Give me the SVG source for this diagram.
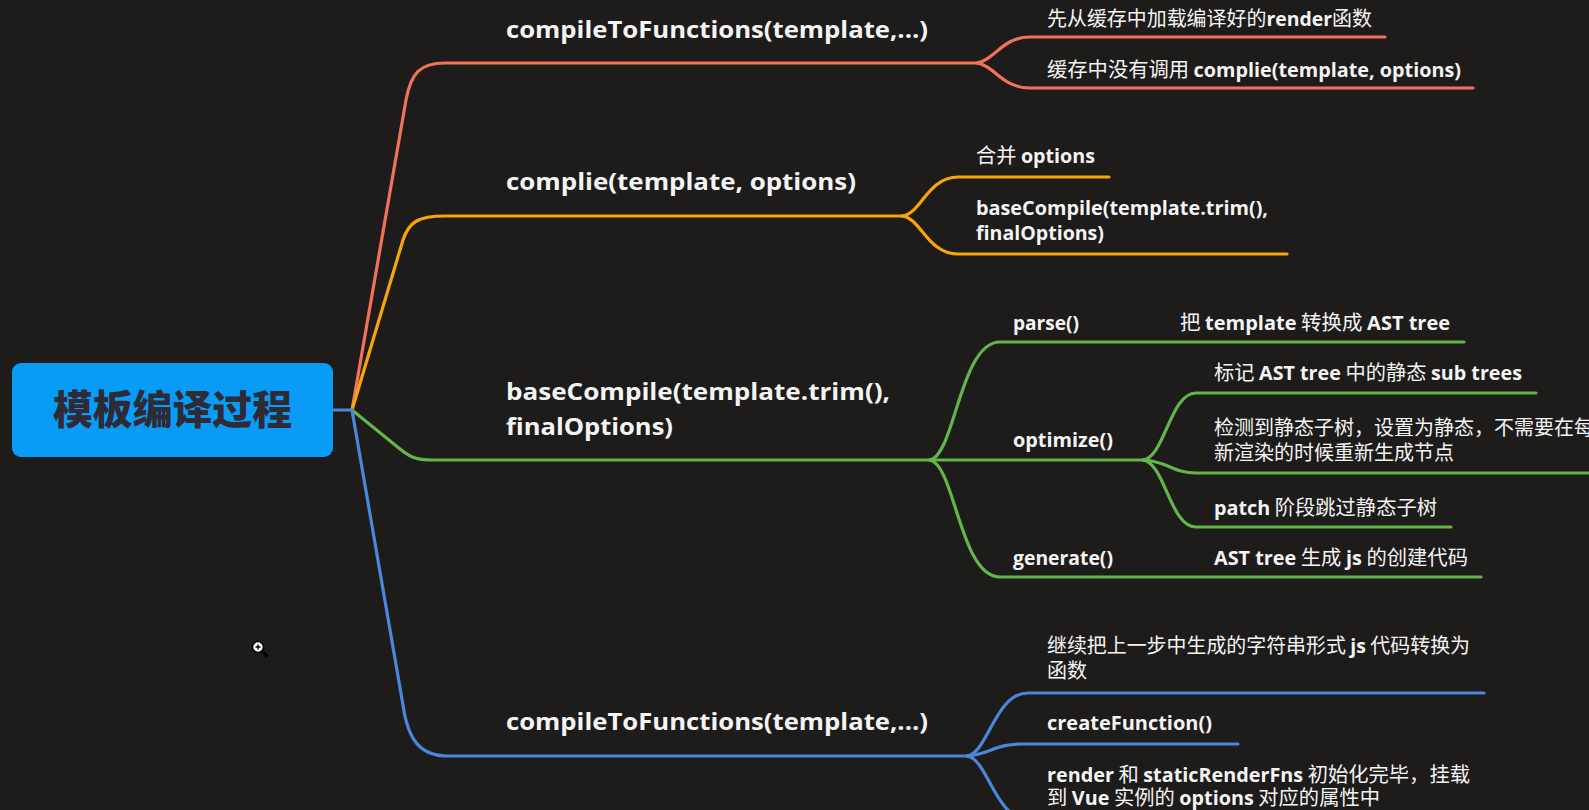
<svg xmlns="http://www.w3.org/2000/svg" width="1589" height="810" viewBox="0 0 1589 810">
<style>
.bg{fill:#1e1c1a}
.ln{fill:none;stroke-width:3.2;stroke-linecap:round;stroke-linejoin:round}
.red{stroke:#f0725a}.org{stroke:#f6a60c}.grn{stroke:#62b54a}.blu{stroke:#4a86dc}
text{font-family:"Open Sans","Noto Sans CJK SC",sans-serif;fill:#f4f4f4;font-weight:700}
.t1{font-size:23.5px}
.t2{font-size:19.5px}
.c{font-family:"Noto Sans CJK SC",sans-serif;font-weight:400;font-size:20px}
.root{font-family:"Noto Sans CJK SC",sans-serif;font-size:40px;font-weight:900;fill:#2e2a36}
</style>
<rect class="bg" x="0" y="0" width="1589" height="810"/>

<g id="connectors">
  <path class="ln blu" d="M333,410 L352,410"/>
  <path class="ln red" d="M352,410 L406,100 C411,73 420,63 445,63 L977,63"/>
  <path class="ln org" d="M352,410 L403,240 C409,222 418,216 445,216 L903,216"/>
  <path class="ln grn" d="M352,410 L400,449 C410,457 416,460 432,460 L930,460"/>
  <path class="ln blu" d="M352,410 L403,705 C408,740 420,756 448,756 L967,756"/>

  <path class="ln red" d="M977,63 C995,60 1002,37 1030,37 L1385,37"/>
  <path class="ln red" d="M977,63 C995,66 1002,88 1030,88 L1473,88"/>

  <path class="ln org" d="M903,216 C921,213 928,177 958,177 L1109,177"/>
  <path class="ln org" d="M903,216 C921,219 928,254 958,254 L1287,254"/>

  <path class="ln grn" d="M930,460 C955,455 960,342 1000,342 L1464,342"/>
  <path class="ln grn" d="M930,460 C955,465 960,577 1000,577 L1481,577"/>
  <path class="ln grn" d="M930,460 L1143,460"/>
  <path class="ln grn" d="M1143,460 C1165,457 1170,393 1196,393 L1536,393"/>
  <path class="ln grn" d="M1143,460 C1168,461 1172,473 1196,473 L1592,473"/>
  <path class="ln grn" d="M1143,460 C1165,463 1170,527 1196,527 L1451,527"/>

  <path class="ln blu" d="M967,756 C988,753 995,693 1028,693 L1484,693"/>
  <path class="ln blu" d="M967,756 C990,754 995,744 1022,744 L1238,744"/>
  <path class="ln blu" d="M967,756 C988,759 995,819 1028,819 L1484,819"/>
</g>

<g id="root">
  <rect x="12" y="363" width="321" height="94" rx="9" fill="#089cf7"/>
  <text class="root" x="53" y="424" textLength="239" lengthAdjust="spacingAndGlyphs">模板编译过程</text>
</g>

<g id="n-compileToFunctions-1">
  <text class="t1" x="506" y="38" textLength="422" lengthAdjust="spacingAndGlyphs">compileToFunctions(template,...)</text>
</g>
<g id="n-cache-load">
  <text class="t2" x="1047" y="26" textLength="325" lengthAdjust="spacingAndGlyphs"><tspan class="c">先从缓存中加载编译好的</tspan>render<tspan class="c">函数</tspan></text>
</g>
<g id="n-cache-miss">
  <text class="t2" x="1047" y="77" textLength="414" lengthAdjust="spacingAndGlyphs"><tspan class="c">缓存中没有调用 </tspan>complie(template, options)</text>
</g>

<g id="n-complie">
  <text class="t1" x="506" y="190" textLength="350" lengthAdjust="spacingAndGlyphs">complie(template, options)</text>
</g>
<g id="n-merge-options">
  <text class="t2" x="976" y="163" textLength="119" lengthAdjust="spacingAndGlyphs"><tspan class="c">合并 </tspan>options</text>
</g>
<g id="n-baseCompile-sub">
  <text class="t2" x="976" y="215" textLength="292" lengthAdjust="spacingAndGlyphs">baseCompile(template.trim(),</text>
  <text class="t2" x="976" y="240" textLength="128" lengthAdjust="spacingAndGlyphs">finalOptions)</text>
</g>

<g id="n-baseCompile">
  <text class="t1" x="506" y="400" textLength="384" lengthAdjust="spacingAndGlyphs">baseCompile(template.trim(),</text>
  <text class="t1" x="506" y="435" textLength="167" lengthAdjust="spacingAndGlyphs">finalOptions)</text>
</g>
<g id="n-parse">
  <text class="t2" x="1013" y="330" textLength="66" lengthAdjust="spacingAndGlyphs">parse()</text>
</g>
<g id="n-parse-desc">
  <text class="t2" x="1180" y="330" textLength="270" lengthAdjust="spacingAndGlyphs"><tspan class="c">把 </tspan>template<tspan class="c"> 转换成 </tspan>AST tree</text>
</g>
<g id="n-optimize">
  <text class="t2" x="1013" y="447" textLength="100" lengthAdjust="spacingAndGlyphs">optimize()</text>
</g>
<g id="n-mark">
  <text class="t2" x="1214" y="380" textLength="308" lengthAdjust="spacingAndGlyphs"><tspan class="c">标记 </tspan>AST tree<tspan class="c"> 中的静态 </tspan>sub trees</text>
</g>
<g id="n-detect">
  <text class="t2" x="1214" y="435"><tspan class="c">检测到静态子树，设置为静态，不需要在每</tspan></text>
  <text class="t2" x="1214" y="460"><tspan class="c">新渲染的时候重新生成节点</tspan></text>
</g>
<g id="n-patch">
  <text class="t2" x="1214" y="515" textLength="223" lengthAdjust="spacingAndGlyphs">patch<tspan class="c"> 阶段跳过静态子树</tspan></text>
</g>
<g id="n-generate">
  <text class="t2" x="1013" y="565" textLength="100" lengthAdjust="spacingAndGlyphs">generate()</text>
</g>
<g id="n-generate-desc">
  <text class="t2" x="1214" y="565" textLength="254" lengthAdjust="spacingAndGlyphs">AST tree<tspan class="c"> 生成 </tspan>js<tspan class="c"> 的创建代码</tspan></text>
</g>

<g id="n-compileToFunctions-2">
  <text class="t1" x="506" y="730" textLength="422" lengthAdjust="spacingAndGlyphs">compileToFunctions(template,...)</text>
</g>
<g id="n-convert">
  <text class="t2" x="1047" y="653" textLength="423" lengthAdjust="spacingAndGlyphs"><tspan class="c">继续把上一步中生成的字符串形式 </tspan>js<tspan class="c"> 代码转换为</tspan></text>
  <text class="t2" x="1047" y="678"><tspan class="c">函数</tspan></text>
</g>
<g id="n-createFunction">
  <text class="t2" x="1047" y="730" textLength="165" lengthAdjust="spacingAndGlyphs">createFunction()</text>
</g>
<g id="n-render">
  <text class="t2" x="1047" y="782" textLength="423" lengthAdjust="spacingAndGlyphs">render<tspan class="c"> 和 </tspan>staticRenderFns<tspan class="c"> 初始化完毕，挂载</tspan></text>
  <text class="t2" x="1047" y="805" textLength="333" lengthAdjust="spacingAndGlyphs"><tspan class="c">到 </tspan>Vue<tspan class="c"> 实例的 </tspan>options<tspan class="c"> 对应的属性中</tspan></text>
</g>

<g id="cursor">
  <path d="M262,651 L267.5,656.5" stroke="#000" stroke-width="3"/>
  <circle cx="258" cy="647" r="5.5" fill="#fff" stroke="#000" stroke-width="1.6"/>
  <path d="M255.5,647 h5 M258,644.5 v5" stroke="#000" stroke-width="1.4"/>
</g>
</svg>
